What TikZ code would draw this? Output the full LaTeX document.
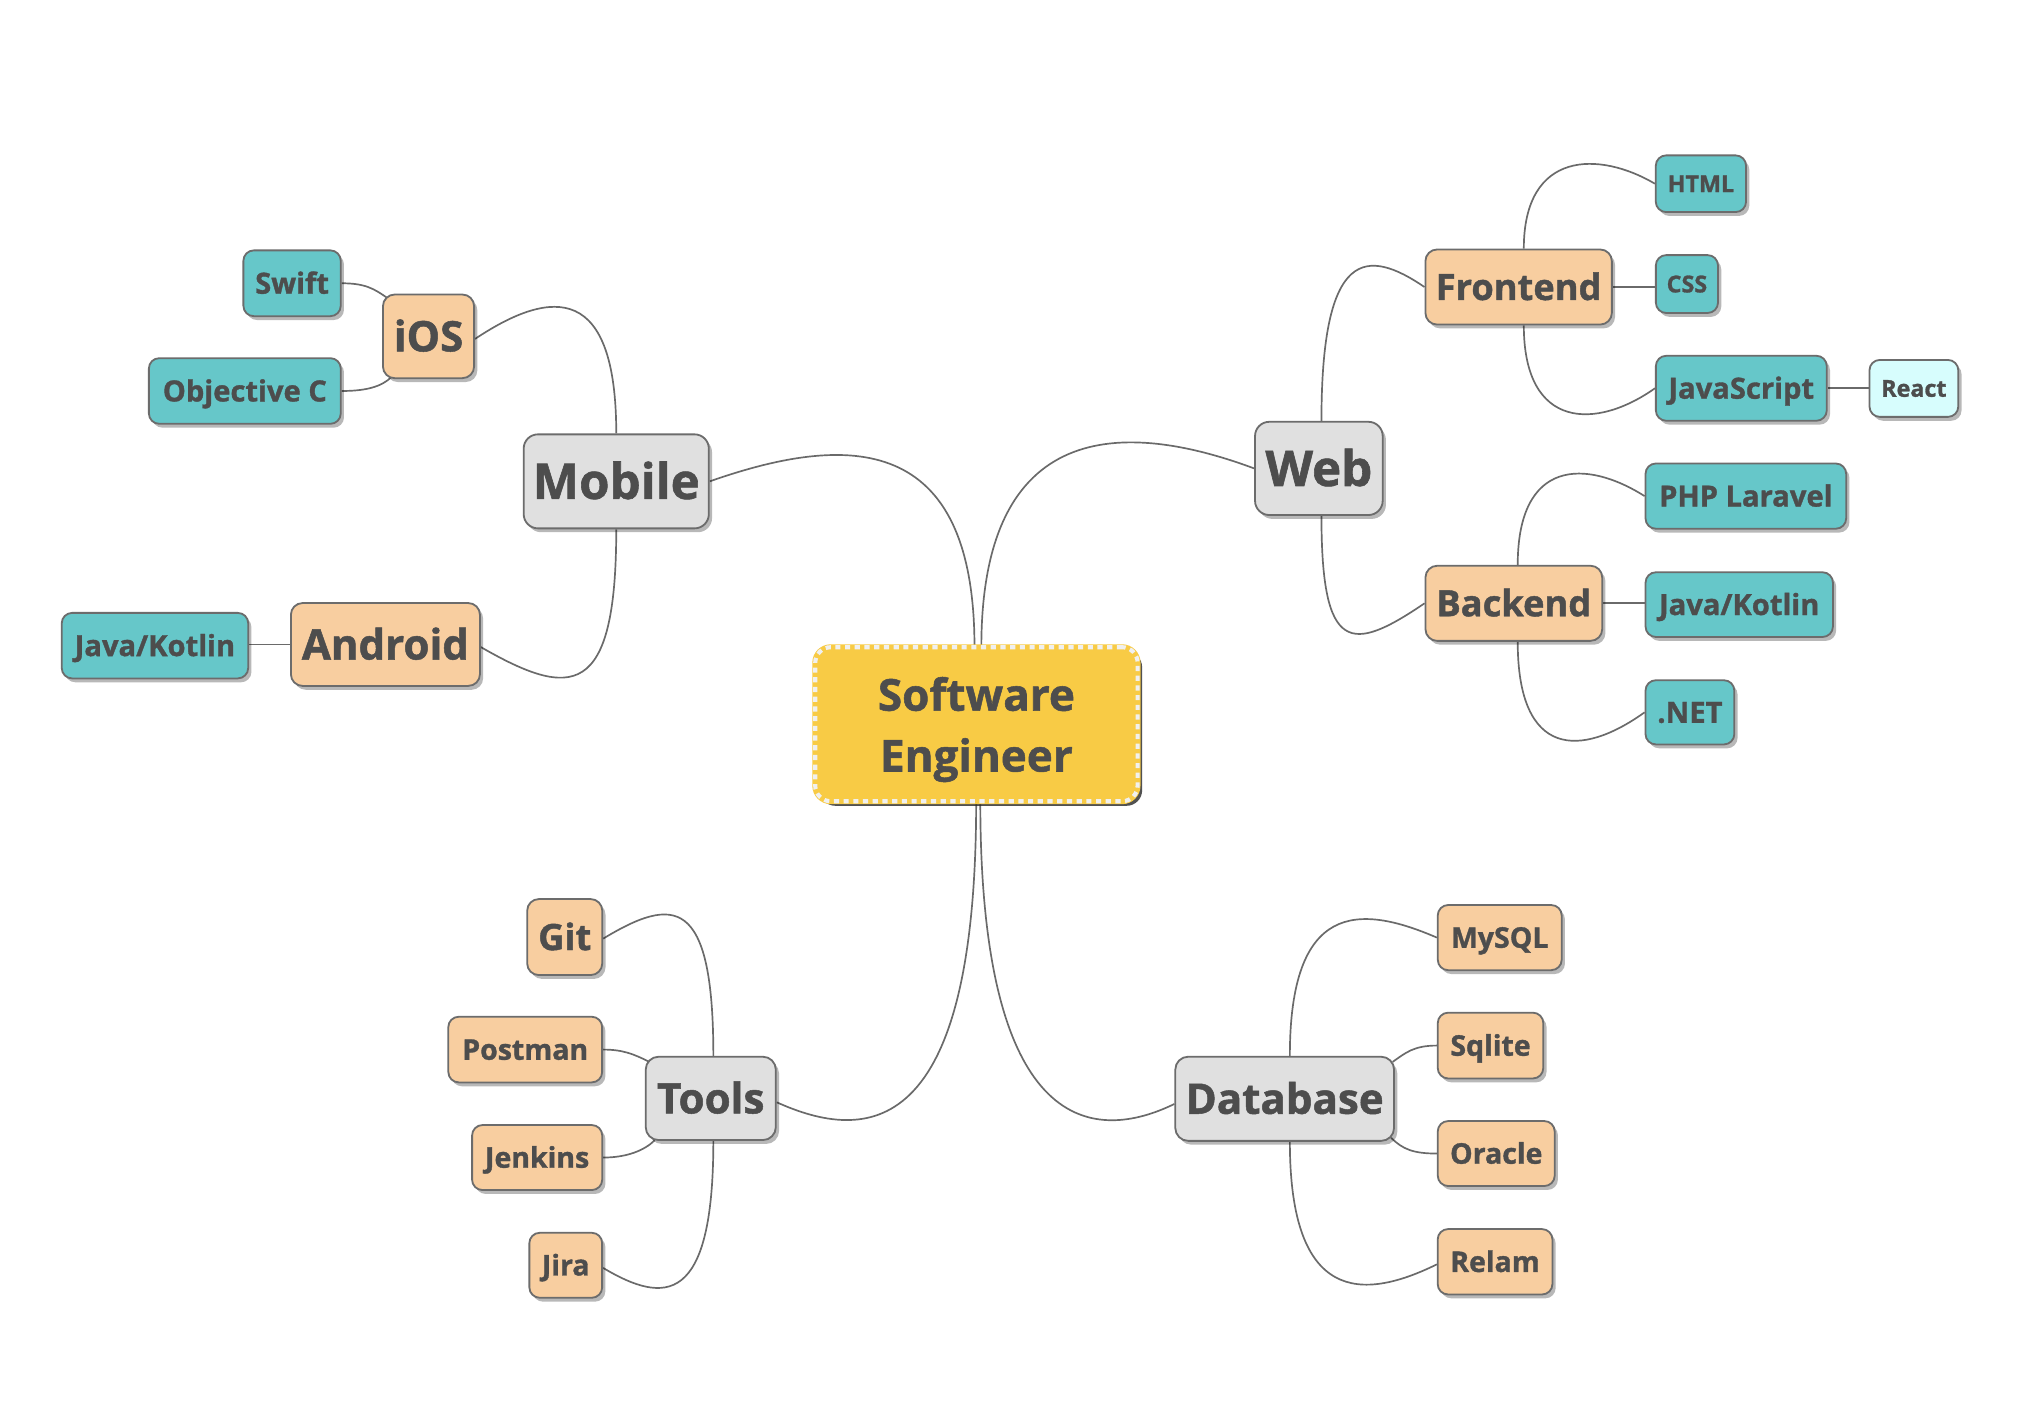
\documentclass[tikz,border=0pt]{standalone}
\usepackage{fontspec}
\setmainfont{Open Sans}[BoldFeatures={FakeBold=1.2}]
\usetikzlibrary{shadows,calc}
\definecolor{textc}{HTML}{4D4D4D}
\definecolor{linec}{HTML}{6A6A6A}
\definecolor{borderc}{HTML}{6C6C6C}
\definecolor{grayone}{HTML}{E0E0E0}
\definecolor{peach}{HTML}{F8CEA0}
\definecolor{tealc}{HTML}{66C7C9}
\definecolor{reactc}{HTML}{D7FDFD}
\definecolor{yel}{HTML}{F8CB45}
\definecolor{dashc}{HTML}{F0F0F0}
\pgfdeclarelayer{bg}
\pgfsetlayers{bg,main}
\tikzset{
  box/.style={draw=borderc, line width=1.4pt, rounded corners=8pt, text=textc, inner sep=0pt, align=center,
    text depth=0pt,
    drop shadow={shadow xshift=2.5pt, shadow yshift=-3pt, opacity=0.28, fill=black}},
  lone/.style={box, fill=grayone, rounded corners=11pt, font=\bfseries\fontsize{38}{40}\selectfont, text height=27.1pt},
  ltd/.style={box, fill=grayone, rounded corners=10pt, font=\bfseries\fontsize{32.5}{34}\selectfont, text height=23.2pt},
  ltwobig/.style={box, fill=peach, rounded corners=9pt, font=\bfseries\fontsize{32.5}{34}\selectfont, text height=23.2pt},
  ltwo/.style={box, fill=peach, rounded corners=9pt, font=\bfseries\fontsize{28}{30}\selectfont, text height=20pt},
  lsm/.style={box, fill=peach, rounded corners=8pt, font=\bfseries\fontsize{22}{24}\selectfont, text height=15.7pt},
  tl/.style={box, fill=tealc, rounded corners=8pt, font=\bfseries\fontsize{22.5}{24}\selectfont, text height=16.1pt},
  tls/.style={box, fill=tealc, rounded corners=8pt, font=\bfseries\fontsize{18}{20}\selectfont, text height=12.9pt},
  rc/.style={box, fill=reactc, rounded corners=8pt, font=\bfseries\fontsize{18}{20}\selectfont, text height=12.9pt},
  sebox/.style={fill=yel, rounded corners=12pt, text=textc, inner sep=0pt, align=center,
    font=\bfseries\fontsize{34}{47}\selectfont, text depth=0pt,
    drop shadow={shadow xshift=3.5pt, shadow yshift=-3.5pt, opacity=0.8, fill=black!85},
    preaction={draw=yel, line width=4.5pt},
    postaction={draw=dashc, line width=3.2pt, dash pattern=on 4pt off 3.5pt}},
  conn/.style={draw=linec, line width=1.3pt},
}
\newcommand\conn[4]{\draw[conn] (#1) .. controls ($(#1)+(#2)$) and ($(#4)+(#3)$) .. (#4);}
\begin{document}
\begin{tikzpicture}[x=1pt,y=-1pt]
\useasboundingbox (0,0) rectangle (1568,1088);

% central and main topics
\node[sebox, minimum width=249pt, minimum height=119pt] (SE) at (754.2,559.4) {Software\\Engineer};
\node[lone, minimum width=143pt, minimum height=72.6pt] (Mobile) at (476,371.8) {Mobile};
\node[lone, minimum width=98.6pt, minimum height=72pt] (Web) at (1018.7,361.8) {Web};
\node[ltd, minimum width=100.5pt, minimum height=64.4pt] (Tools) at (549,848.4) {Tools};
\node[ltd, minimum width=169pt, minimum height=65pt] (Database) at (992.3,848.7) {Database};

% second level
\node[ltwobig, minimum width=70.4pt, minimum height=64.6pt] (iOS) at (331,259.8) {iOS};
\node[ltwobig, minimum width=146pt, minimum height=64pt] (Android) at (297.7,497.8) {Android};
\node[ltwo, minimum width=144pt, minimum height=58pt] (Frontend) at (1173,221.7) {Frontend};
\node[ltwo, minimum width=136.5pt, minimum height=58pt] (Backend) at (1169.3,466) {Backend};
\node[ltwo, minimum width=58pt, minimum height=58.7pt] (Git) at (436.2,723.8) {Git};
\node[lsm, minimum width=118.8pt, minimum height=50.7pt] (Postman) at (405.7,810.7) {Postman};
\node[lsm, minimum width=100.5pt, minimum height=50.2pt] (Jenkins) at (414.9,894.1) {Jenkins};
\node[lsm, minimum width=56.2pt, minimum height=50.2pt] (Jira) at (437,977.3) {Jira};
\node[lsm, minimum width=95.7pt, minimum height=50.3pt] (MySQL) at (1158.4,724.2) {MySQL};
\node[lsm, minimum width=81.5pt, minimum height=50.8pt] (Sqlite) at (1151.3,807.6) {Sqlite};
\node[lsm, minimum width=90.3pt, minimum height=50.2pt] (Oracle) at (1155.7,891) {Oracle};
\node[lsm, minimum width=88.6pt, minimum height=50.5pt] (Relam) at (1154.8,974.6) {Relam};

% third level
\node[tl, minimum width=75.2pt, minimum height=50.8pt] (Swift) at (225.6,218.8) {Swift};
\node[tl, minimum width=148.2pt, minimum height=50.7pt] (ObjC) at (189.1,302) {Objective C};
\node[tl, minimum width=144pt, minimum height=50.6pt] (JKL) at (119.7,498.7) {Java/Kotlin};
\node[tls, minimum width=69.7pt, minimum height=43.8pt] (HTML) at (1313.8,141.9) {HTML};
\node[tls, minimum width=48pt, minimum height=44.7pt] (CSS) at (1303,219.4) {CSS};
\node[tl, minimum width=132pt, minimum height=50.2pt] (JS) at (1345,299.9) {JavaScript};
\node[rc, minimum width=68.6pt, minimum height=44pt] (React) at (1478.3,300) {React};
\node[tl, minimum width=155pt, minimum height=50.4pt] (PHP) at (1348.5,383.2) {PHP Laravel};
\node[tl, minimum width=144.7pt, minimum height=50pt] (JKR) at (1343.4,467) {Java/Kotlin};
\node[tl, minimum width=68.6pt, minimum height=49.6pt] (NET) at (1305.3,550.2) {.NET};

% attachment points
\coordinate (seT1) at ($(SE.north)+(-1.5,0)$);
\coordinate (seT2) at ($(SE.north)+(3.8,0)$);
\coordinate (seB1) at ($(SE.south)+(-0.2,0)$);
\coordinate (seB2) at ($(SE.south)+(3,0)$);
\coordinate (toolsE) at ($(Tools.east)+(0,3)$);
\coordinate (dbW) at ($(Database.west)+(0,4)$);
\coordinate (webN) at ($(Web.north)+(2,0)$);
\coordinate (webS) at ($(Web.south)+(2,0)$);
\coordinate (feN) at ($(Frontend.north)+(4,0)$);
\coordinate (feS) at ($(Frontend.south)+(4,0)$);
\coordinate (beN) at ($(Backend.north)+(3,0)$);
\coordinate (beS) at ($(Backend.south)+(3,0)$);
\coordinate (iosE) at ($(iOS.east)+(0,2)$);
\coordinate (andE) at ($(Android.east)+(0,2)$);
\coordinate (toN) at ($(Tools.north)+(2,0)$);
\coordinate (toS) at ($(Tools.south)+(2,0)$);
\coordinate (gitE) at ($(Git.east)+(0,1.2)$);
\coordinate (jiraE) at ($(Jira.east)+(0,2)$);
\coordinate (dbN) at ($(Database.north)+(4,0)$);
\coordinate (dbS) at ($(Database.south)+(4,0)$);
\coordinate (relW) at ($(Relam.west)+(0,2)$);
\coordinate (iosNW) at ($(iOS.north west)+(3.7,3.1)$);
\coordinate (iosSW) at ($(iOS.south west)+(7.5,-1.8)$);
\coordinate (toNW) at ($(Tools.north west)+(2.9,4.4)$);
\coordinate (toSW) at ($(Tools.south west)+(7.7,-0.6)$);
\coordinate (dbNE) at ($(Database.north east)+(-1.8,4.7)$);
\coordinate (dbSE) at ($(Database.south east)+(-3,-3.1)$);

\begin{pgfonlayer}{bg}
\fill[white] (0,0) rectangle (1568,1088);
\conn{seT1}{0,-165.4}{107.3,-37.7}{Mobile.east}
\conn{seT2}{0,-175.5}{-101.6,-37.8}{Web.west}
\conn{seB1}{0,263}{68.7,30.9}{toolsE}
\conn{seB2}{0,262.3}{-59.3,28.9}{dbW}
\conn{webN}{0,-134.2}{-44.5,-30.2}{Frontend.west}
\conn{webS}{0,106.7}{-56.8,38.5}{Backend.west}
\conn{feN}{0,-76.1}{-42.9,-25.3}{HTML.west}
\conn{feS}{0,81.1}{-45,31.9}{JS.west}
\conn{beN}{0,-82.3}{-45,-28.5}{PHP.west}
\conn{beS}{0,90.3}{-49,35.1}{NET.west}
\conn{Mobile.north}{0,-114.2}{60.8,-40.5}{iosE}
\conn{Mobile.south}{0,131.8}{69.8,40.1}{andE}
\conn{toN}{0,-124}{54.4,-32.8}{gitE}
\conn{toS}{0,127.2}{47.8,28.5}{jiraE}
\conn{dbN}{0,-118.3}{-60.8,-26.3}{MySQL.west}
\conn{dbS}{0,124}{-57.9,28.5}{relW}
\draw[conn] (Frontend.east) -- (Frontend.east -| CSS.west);
\draw[conn] (JS.east) -- (JS.east -| React.west);
\draw[conn] (Backend.east) -- (Backend.east -| JKR.west);
\draw[conn] (Android.west) -- (Android.west -| JKL.east);
\draw[conn] (Swift.east) .. controls ($(Swift.east)+(18,0)$) and ($(iosNW)+(-10,-7)$) .. (iosNW);
\draw[conn] (ObjC.east) .. controls ($(ObjC.east)+(18,0)$) and ($(iosSW)+(-8,8)$) .. (iosSW);
\draw[conn] (Postman.east) .. controls ($(Postman.east)+(15,0)$) and ($(toNW)+(-12,-6)$) .. (toNW);
\draw[conn] (Jenkins.east) .. controls ($(Jenkins.east)+(18,0)$) and ($(toSW)+(-8,8)$) .. (toSW);
\draw[conn] (Sqlite.west) .. controls ($(Sqlite.west)+(-18,0)$) and ($(dbNE)+(10,-7)$) .. (dbNE);
\draw[conn] (Oracle.west) .. controls ($(Oracle.west)+(-18,0)$) and ($(dbSE)+(9,9)$) .. (dbSE);
\end{pgfonlayer}
\end{tikzpicture}
\end{document}
